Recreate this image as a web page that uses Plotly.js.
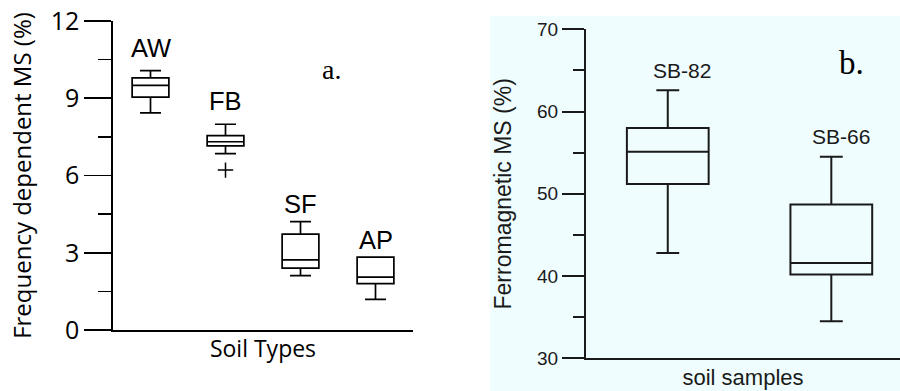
<!DOCTYPE html>
<html>
<head>
<meta charset="utf-8">
<script src="https://cdn.plot.ly/plotly-3.0.1.min.js"></script>
<style>html,body{margin:0;padding:0;background:#fff;}#chart{width:900px;height:391px;}</style>
</head>
<body>
<div id="chart"></div>
<script>
// Panel a: frequency dependent MS by soil type
const soilTypes = ["AW", "FB", "SF", "AP"];
const aLower = [8.43, 6.85, 2.11, 1.19];
const aQ1 = [9.04, 7.15, 2.40, 1.80];
const aMedian = [9.50, 7.31, 2.72, 2.05];
const aQ3 = [9.79, 7.55, 3.72, 2.83];
const aUpper = [10.07, 7.99, 4.21, 2.83];
const aOutlierCat = ["FB"];
const aOutlierVal = [6.21];
const aLabelY = [10.95, 8.9, 4.9, 3.5];

// Panel b: ferromagnetic MS by soil sample
const samples = ["SB-82", "SB-66"];
const bLower = [42.8, 34.5];
const bQ1 = [51.2, 40.2];
const bMedian = [55.1, 41.6];
const bQ3 = [58.0, 48.7];
const bUpper = [62.6, 54.5];
const bLabelY = [65.0, 57.0];

const traces = [];
soilTypes.forEach((c, i) => {
  traces.push({
    type: 'box', xaxis: 'x', yaxis: 'y',
    x: [c], q1: [aQ1[i]], median: [aMedian[i]], q3: [aQ3[i]],
    lowerfence: [aLower[i]], upperfence: [aUpper[i]],
    width: 0.49, whiskerwidth: 0.57,
    fillcolor: 'rgba(0,0,0,0)',
    line: {color: '#000', width: 1.7},
    showlegend: false, hoverinfo: 'skip'
  });
});
traces.push({
  type: 'scatter', mode: 'markers', xaxis: 'x', yaxis: 'y',
  x: aOutlierCat, y: aOutlierVal,
  marker: {symbol: 'cross-thin', size: 11, line: {color: '#000', width: 1.5}},
  showlegend: false, hoverinfo: 'skip'
});
samples.forEach((c, i) => {
  traces.push({
    type: 'box', xaxis: 'x2', yaxis: 'y2',
    x: [c], q1: [bQ1[i]], median: [bMedian[i]], q3: [bQ3[i]],
    lowerfence: [bLower[i]], upperfence: [bUpper[i]],
    width: 0.5, whiskerwidth: 0.28,
    fillcolor: 'rgba(0,0,0,0)',
    line: {color: '#1a1a1a', width: 2},
    showlegend: false, hoverinfo: 'skip'
  });
});

const annotations = [];
soilTypes.forEach((c, i) => {
  annotations.push({xref: 'x', yref: 'y', x: c, y: aLabelY[i], text: c, showarrow: false,
    xanchor: 'center', yanchor: 'middle',
    font: {family: 'Liberation Sans, Arial', size: 25.5, color: '#000'}});
});
samples.forEach((c, i) => {
  annotations.push({xref: 'x2', yref: 'y2', x: c, y: bLabelY[i], text: c, showarrow: false,
    xanchor: 'center', yanchor: 'middle',
    xshift: i === 0 ? 14 : 10,
    font: {family: 'Liberation Sans, Arial', size: 21, color: '#1a1a1a'}});
});
annotations.push({xref: 'paper', yref: 'paper', x: 331 / 900, y: 1 - 70 / 391, text: 'a.', showarrow: false,
  xanchor: 'center', yanchor: 'middle',
  font: {family: 'Liberation Serif, Times New Roman', size: 28, color: '#000'}});
annotations.push({xref: 'paper', yref: 'paper', x: 851 / 900, y: 1 - 63 / 391, text: 'b.', showarrow: false,
  xanchor: 'center', yanchor: 'middle',
  font: {family: 'Liberation Serif, Times New Roman', size: 33, color: '#000'}});

const layout = {
  width: 900, height: 391,
  margin: {l: 0, r: 0, t: 0, b: 0},
  paper_bgcolor: '#fff', plot_bgcolor: 'rgba(0,0,0,0)',
  showlegend: false,
  boxmode: 'overlay',
  shapes: [{type: 'rect', xref: 'paper', yref: 'paper', x0: 490 / 900, x1: 1, y0: 0, y1: 1 - 16 / 391,
    fillcolor: '#effdfe', line: {width: 0}, layer: 'below'}],
  xaxis: {
    domain: [113 / 900, 413 / 900], anchor: 'y',
    type: 'category', categoryorder: 'array', categoryarray: soilTypes,
    range: [-0.5, 3.5], showticklabels: false, ticks: '',
    showline: true, linecolor: '#000', linewidth: 1.7, showgrid: false, zeroline: false,
    title: {text: 'Soil Types', font: {family: 'Open Sans', size: 23, color: '#000'}, standoff: 10}
  },
  yaxis: {
    domain: [1 - 330 / 391, 1 - 21 / 391], anchor: 'x',
    range: [0, 12], tickmode: 'array', tickvals: [0, 3, 6, 9, 12],
    ticks: 'outside', ticklen: 27, tickwidth: 1.7, tickcolor: '#000',
    minor: {tickvals: [1.5, 4.5, 7.5, 10.5], ticks: 'outside', ticklen: 13, tickwidth: 1.7, tickcolor: '#000', showgrid: false},
    tickfont: {family: 'Open Sans', size: 25, color: '#000'},
    showline: true, linecolor: '#000', linewidth: 1.7, showgrid: false, zeroline: false,
    title: {text: 'Frequency dependent MS (%)', font: {family: 'Open Sans', size: 24, color: '#000'}, standoff: 12}
  },
  xaxis2: {
    domain: [586 / 900, 1], anchor: 'y2',
    type: 'category', categoryorder: 'array', categoryarray: samples,
    range: [-0.5, 1.42], showticklabels: false, ticks: '',
    showline: true, linecolor: '#1a1a1a', linewidth: 2, showgrid: false, zeroline: false,
    title: {text: 'soil samples', font: {family: 'Liberation Sans, Arial', size: 22, color: '#1a1a1a'}, standoff: 10}
  },
  yaxis2: {
    domain: [1 - 358.3 / 391, 1 - 29.3 / 391], anchor: 'x2',
    range: [30, 70], tickmode: 'array', tickvals: [30, 40, 50, 60, 70],
    ticks: 'outside', ticklen: 22, tickwidth: 2, tickcolor: '#1a1a1a',
    minor: {tickvals: [35, 45, 55, 65], ticks: 'outside', ticklen: 11, tickwidth: 2, tickcolor: '#1a1a1a', showgrid: false},
    tickfont: {family: 'Liberation Sans, Arial', size: 19, color: '#1a1a1a'},
    showline: true, linecolor: '#1a1a1a', linewidth: 2, showgrid: false, zeroline: false,
    title: {text: 'Ferromagnetic MS (%)', font: {family: 'Liberation Sans, Arial', size: 23, color: '#1a1a1a'}, standoff: 19}
  },
  annotations: annotations
};

Plotly.newPlot('chart', traces, layout, {staticPlot: true, displayModeBar: false});
</script>
</body>
</html>
